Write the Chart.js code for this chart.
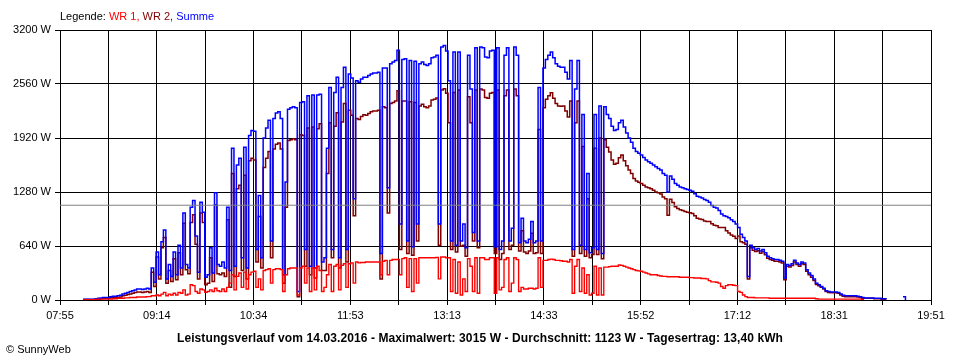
<!DOCTYPE html>
<html>
<head>
<meta charset="utf-8">
<script src="https://cdn.jsdelivr.net/npm/chart.js@4.4.1/dist/chart.umd.min.js"></script>
<style>
  html, body { margin: 0; padding: 0; background: #fff; }
  #wrap { position: relative; width: 960px; height: 360px; font-family: "Liberation Sans", Arial, sans-serif; color: #000; }
  #c { position: absolute; left: 0; top: 0; }
  .txt { position: absolute; font-size: 11px; line-height: 14px; white-space: nowrap; }
  #legend { left: 60px; top: 9px; }
  #caption { left: 0; width: 960px; top: 331px; text-align: center; font-weight: bold; font-size: 12px; letter-spacing: 0.1px; }
  #copy { left: 6px; top: 342px; }
</style>
</head>
<body>
<div id="wrap">
  <canvas id="c" width="960" height="360"></canvas>
  <div class="txt" id="legend">Legende: <span style="color:#ff0000">WR 1,</span> <span style="color:#800000">WR 2,</span> <span style="color:#0000ff">Summe</span></div>
  <div class="txt" id="caption">Leistungsverlauf vom 14.03.2016 - Maximalwert: 3015 W - Durchschnitt: 1123 W - Tagesertrag: 13,40 kWh</div>
  <div class="txt" id="copy">© SunnyWeb</div>
</div>
<script>
// Time axis (minutes since midnight)
const axisStart = 475;   // 07:55
const axisEnd = 1191;    // 19:51
const tickLabels = ['07:55','09:14','10:34','11:53','13:13','14:33','15:52','17:12','18:31','19:51'];
const yTicks = [0, 640, 1280, 1920, 2560, 3200];
const average = 1123;

// Samples every 2 minutes starting 08:14
const startMinute = 494;
const stepMinutes = 2;

const summe = [
  10,10,10,10,10,15,20,25,30,30,
  30,40,45,45,50,55,70,80,90,100,
  110,120,130,130,125,130,140,130,380,210,
  570,300,690,830,250,420,280,570,300,650,
  380,1030,420,380,1100,1180,760,330,1160,1040,
  270,300,620,320,1270,420,400,450,380,1100,
  350,1800,400,1600,1680,500,1810,380,1950,2010,
  2000,600,1240,500,1920,2040,2130,700,2150,2215,
  2230,2150,300,1400,2260,2280,2290,2280,100,2340,
  2350,600,2420,400,2430,380,2430,2440,450,500,
  1800,2520,600,2460,2640,500,2520,2760,600,2680,
  2630,1200,2600,2580,2620,2640,2640,2660,2680,2690,
  2690,2700,550,2750,2750,1330,2800,2820,2840,2960,
  900,2850,2860,700,2840,630,2830,900,2800,2820,
  2790,2780,2800,2870,2880,2900,900,3000,3015,2950,
  2600,700,2940,650,2940,700,900,620,2900,2500,
  800,2990,700,3000,2990,2880,2870,2950,2960,630,
  2990,600,700,2900,2990,700,850,3000,2900,680,
  970,700,680,720,930,680,700,2520,700,2750,
  2850,2900,2940,2870,2800,2770,2760,2760,2700,2620,
  2840,600,2500,2840,650,2200,600,1500,560,620,
  2200,600,2300,550,2290,2200,2150,2060,2010,2020,
  2100,2130,2050,1980,1920,1870,1800,1760,1740,1720,
  1690,1660,1640,1620,1600,1580,1560,1540,1500,1480,
  1280,1470,1430,1380,1360,1340,1330,1320,1310,1300,
  1290,1260,1230,1220,1210,1190,1180,1160,1120,1100,
  1090,1060,1020,1000,990,975,950,930,900,860,
  780,740,700,280,650,620,600,610,580,600,
  560,520,500,490,480,480,470,460,260,420,
  410,430,470,440,420,450,440,360,320,290,
  250,200,180,160,140,110,100,95,95,95,
  90,70,55,50,50,50,50,50,45,40,
  30,25,25,25,25,20,20,20,15,15,10,
  null,null,null,null,null,null,40,0
];

const wr1 = [
  5,5,5,5,5,8,10,10,10,10,
  10,12,15,15,20,20,20,25,25,30,
  30,30,35,35,35,35,40,40,50,50,
  60,50,70,90,50,70,60,80,60,90,
  80,120,60,70,180,170,100,80,130,120,
  90,100,120,100,140,110,100,130,100,150,
  200,300,120,280,320,150,330,130,300,330,
  340,150,250,120,350,360,370,200,360,370,
  370,360,100,300,370,380,380,380,60,380,
  400,200,380,100,380,120,400,350,100,150,
  300,420,100,400,420,120,410,430,150,430,
  440,200,450,440,445,445,450,450,450,450,
  450,450,300,460,470,300,470,480,480,480,
  300,490,500,150,490,100,490,200,500,500,
  500,500,500,500,500,505,250,510,510,500,
  500,100,480,80,450,60,250,100,490,400,
  100,500,80,500,500,480,480,500,500,80,
  500,120,150,480,500,100,200,500,480,100,
  150,130,130,140,140,130,140,500,150,470,
  470,480,485,480,470,470,465,460,460,450,
  480,80,400,480,100,380,80,300,60,80,
  400,60,380,60,390,390,395,400,400,400,
  415,410,400,390,380,370,360,350,345,340,
  330,320,310,300,300,300,290,285,280,280,
  275,275,275,275,275,270,270,270,270,265,
  265,260,260,260,255,255,250,230,215,215,
  210,200,160,140,170,180,180,175,170,100,
  90,60,40,30,30,30,25,25,25,25,
  25,25,20,20,20,20,20,20,20,20,
  20,20,20,20,20,20,20,20,20,20,
  20,15,10,10,10,10,10,10,10,10,
  10,10,10,10,10,10,10,10,10,10,
  5,5
];

const wr2 = [
  5,5,5,5,5,7,10,15,20,20,
  20,28,30,30,30,35,50,55,65,70,
  80,90,95,95,90,95,100,90,330,160,
  510,250,620,740,200,350,220,490,240,560,
  300,910,360,310,920,1010,660,250,1030,920,
  180,200,500,220,1130,310,300,320,280,950,
  150,1500,280,1320,1360,350,1480,250,1650,1680,
  1660,450,990,380,1570,1680,1760,500,1790,1845,
  1860,1790,200,1100,1890,1900,1910,1900,40,1960,
  1950,400,2040,300,2050,260,2030,2090,350,350,
  1500,2100,500,2060,2220,380,2110,2330,450,2250,
  2190,1000,2150,2140,2175,2195,2190,2210,2230,2240,
  2240,2250,250,2290,2280,1030,2330,2340,2360,2480,
  600,2360,2360,550,2350,530,2340,700,2300,2320,
  2290,2280,2300,2370,2380,2395,650,2490,2505,2450,
  2100,600,2460,570,2490,640,650,520,2410,2100,
  700,2490,620,2500,2490,2400,2390,2450,2460,550,
  2490,480,550,2420,2490,600,650,2500,2420,580,
  820,570,550,580,790,550,560,2020,550,2280,
  2380,2420,2455,2390,2330,2300,2295,2300,2240,2170,
  2360,520,2100,2360,550,1820,520,1200,500,540,
  1800,540,1920,490,1900,1810,1755,1660,1610,1620,
  1685,1720,1650,1590,1540,1500,1440,1410,1395,1380,
  1360,1340,1330,1320,1300,1280,1270,1255,1220,1200,
  1005,1195,1155,1105,1085,1070,1060,1050,1040,1035,
  1025,1000,970,960,955,935,930,930,905,885,
  880,860,860,860,820,795,770,755,730,760,
  690,680,660,250,620,590,575,585,555,575,
  535,495,480,470,460,460,450,440,240,400,
  390,410,450,420,400,430,420,340,300,270,
  230,185,170,150,130,100,90,85,85,85,
  80,60,45,40,40,40,40,40,35,30,
  20,20,20,20,20,15,15,15,10,10,5
];

function toPoints(values) {
  return values.map((v, i) => ({ x: startMinute + i * stepMinutes, y: v }));
}

const ctx = document.getElementById('c').getContext('2d');
new Chart(ctx, {
  type: 'line',
  data: {
    datasets: [
      { label: 'Durchschnitt', data: [{x: axisStart, y: average}, {x: axisEnd, y: average}],
        borderColor: '#808080', borderWidth: 1, pointRadius: 0 },
      { label: 'WR 1', data: toPoints(wr1), borderColor: '#ff0000', borderWidth: 1.4, pointRadius: 0, stepped: true },
      { label: 'Summe', data: toPoints(summe), borderColor: '#0000ff', borderWidth: 1.5, pointRadius: 0, stepped: true },
      { label: 'WR 2', data: toPoints(wr2), borderColor: '#800000', borderWidth: 1.5, pointRadius: 0, stepped: true }
    ]
  },
  options: {
    responsive: false,
    animation: false,
    devicePixelRatio: 1,
    layout: { padding: { top: 30, right: 29, left: 0, bottom: 0 } },
    plugins: { legend: { display: false }, tooltip: { enabled: false }, title: { display: false } },
    elements: { line: { tension: 0, fill: false } },
    scales: {
      x: {
        type: 'linear',
        min: axisStart,
        max: axisEnd,
        afterBuildTicks: (scale) => {
          const n = (tickLabels.length - 1) * 2;
          const t = [];
          for (let k = 0; k <= n; k++) t.push({ value: axisStart + k * (axisEnd - axisStart) / n });
          scale.ticks = t;
        },
        afterFit: (scale) => { scale.height = 60; },
        grid: { color: '#000', lineWidth: 1, tickLength: 5, drawTicks: true },
        border: { color: '#000', width: 1 },
        ticks: {
          autoSkip: false, maxRotation: 0, minRotation: 0, padding: 4,
          color: '#000', font: { family: '"Liberation Sans", Arial, sans-serif', size: 11 },
          callback: (value, index) => (index % 2 === 0 ? tickLabels[index / 2] : '')
        }
      },
      y: {
        type: 'linear',
        min: 0,
        max: 3200,
        afterBuildTicks: (scale) => { scale.ticks = yTicks.map(v => ({ value: v })); },
        afterFit: (scale) => { scale.width = 60; },
        grid: { color: '#000', lineWidth: 1, tickLength: 5, drawTicks: true },
        border: { color: '#000', width: 1 },
        ticks: {
          padding: 4, color: '#000',
          font: { family: '"Liberation Sans", Arial, sans-serif', size: 11 },
          callback: (v) => v + ' W'
        }
      }
    }
  }
});
</script>
</body>
</html>
